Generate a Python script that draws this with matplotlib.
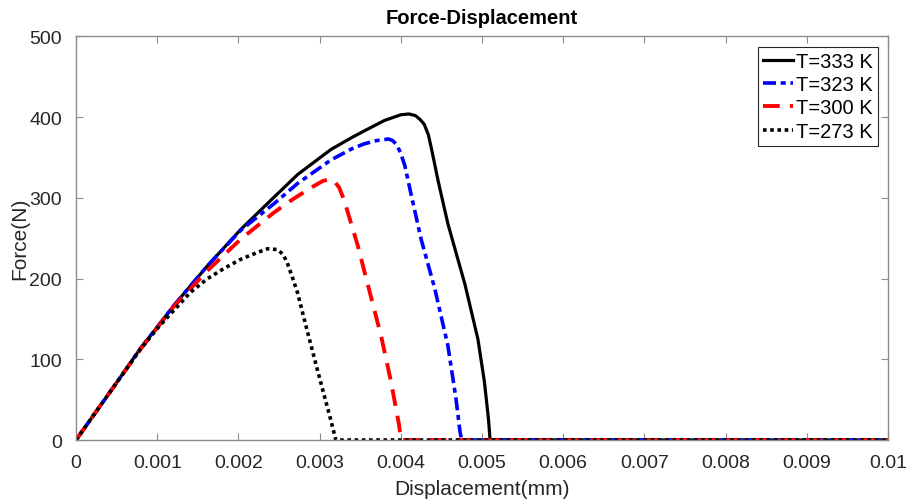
import matplotlib
matplotlib.use("Agg")
import matplotlib.pyplot as plt

plt.rcParams['font.family'] = ['Liberation Sans', 'DejaVu Sans']

# ---- data ----
d_333 = [0, 0.0005, 0.00079, 0.001, 0.0012, 0.00162, 0.00203, 0.00244, 0.00273, 0.00314,
         0.0034, 0.00355, 0.0038, 0.004, 0.0041, 0.00418, 0.00424, 0.00429, 0.00434,
         0.00438, 0.00446, 0.00458, 0.00479, 0.00495, 0.00503, 0.00508, 0.0051, 0.01]
f_333 = [0, 71, 113, 140, 166, 216, 261, 301, 329, 360,
         375, 383, 396, 403, 404, 402, 397, 391, 378,
         360, 321, 268, 193, 125, 72, 26, 0, 0]

d_323 = [0, 0.0005, 0.00079, 0.001, 0.0012, 0.00162, 0.00203, 0.00244, 0.00273, 0.00314,
         0.0034, 0.00355, 0.0037, 0.00385, 0.0039, 0.00395, 0.004, 0.00405, 0.00413,
         0.00425, 0.00442, 0.00458, 0.00468, 0.00473, 0.00475, 0.01]
f_323 = [0, 71, 113, 140, 166, 216, 260, 293, 318, 347,
         361, 367, 371, 373, 371, 366, 355, 340, 303,
         249, 187, 117, 51, 10, 0, 0]

d_300 = [0, 0.0005, 0.00079, 0.001, 0.0012, 0.00162, 0.00203, 0.00244, 0.00265, 0.0029,
         0.00304, 0.00312, 0.00318, 0.00324, 0.0033, 0.00347, 0.00359, 0.00376, 0.00388,
         0.00398, 0.004, 0.01]
f_300 = [0, 71, 112, 139, 165, 210, 249, 282, 297, 313,
         321, 323, 321, 313, 298, 241, 194, 128, 72,
         18, 0, 0]

d_273 = [0, 0.0005, 0.00079, 0.001, 0.0012, 0.00141, 0.00162, 0.00183, 0.00203, 0.0022,
         0.00236, 0.00248, 0.00255, 0.0026, 0.00266, 0.00273, 0.00281, 0.00297, 0.00314,
         0.0032, 0.01]
f_273 = [0, 71, 112, 138, 160, 183, 200, 213, 224, 231,
         237, 236, 230, 220, 203, 182, 150, 88, 24,
         0, 0]

labels = ['T=333 K', 'T=323 K', 'T=300 K', 'T=273 K']
x_ticks = [0, 0.001, 0.002, 0.003, 0.004, 0.005, 0.006, 0.007, 0.008, 0.009, 0.01]
x_tick_labels = ['0', '0.001', '0.002', '0.003', '0.004', '0.005', '0.006', '0.007',
                 '0.008', '0.009', '0.01']
y_ticks = [0, 100, 200, 300, 400, 500]

fig = plt.figure(figsize=(9.07, 5.02), dpi=100)
ax = fig.add_axes([0.0838, 0.1215, 0.8952, 0.8038])

ax.plot(d_333, f_333, color='black', lw=2.3, ls='-', label=labels[0])
ax.plot(d_323, f_323, color='#0000ff', lw=2.6, dashes=(3.6, 1.3, 1.4, 1.3),
        label=labels[1])
ax.plot(d_300, f_300, color='#ff0000', lw=2.8, dashes=(4.3, 2.6), label=labels[2])
ax.plot(d_273, f_273, color='black', lw=2.6, dashes=(1.0, 1.0), dash_capstyle='butt',
        label=labels[3])

ax.set_xlim(0, 0.01)
ax.set_ylim(0, 500)
ax.set_xticks(x_ticks)
ax.set_xticklabels(x_tick_labels)
ax.set_yticks(y_ticks)

spine_col = '#8c8c8c'
for s in ax.spines.values():
    s.set_color(spine_col)
    s.set_linewidth(1.0)
ax.tick_params(direction='in', length=5, width=0.8, color=spine_col,
               labelsize=14, labelcolor='#262626', top=True, right=True, pad=10)

ax.set_title('Force-Displacement', fontsize=14.5, fontweight='bold', color='black', pad=10)
ax.set_xlabel('Displacement(mm)', fontsize=15, color='#262626', labelpad=6)
ax.set_ylabel('Force(N)', fontsize=15, color='#262626', labelpad=0)

leg = ax.legend(loc='upper right', fontsize=14.5, handlelength=1.5, handletextpad=0.15,
                labelspacing=0.22, borderpad=0.25, borderaxespad=0.5, fancybox=False,
                framealpha=1, edgecolor='#262626')
leg.get_frame().set_linewidth(0.8)

fig.savefig('out.png', dpi=100)
